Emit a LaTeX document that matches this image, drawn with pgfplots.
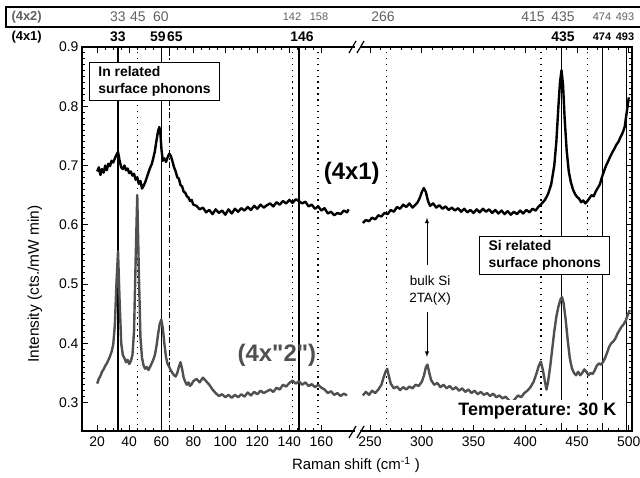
\documentclass[border=0pt]{standalone}
\usepackage{fontspec}
\setmainfont{Liberation Sans}
\usepackage{pgfplots}
\pgfplotsset{compat=1.18}

\definecolor{grayline}{HTML}{505050}
\definecolor{graytext}{HTML}{606060}

% 4x1 spectrum, low-frequency part
\pgfplotstableread{
x y
20 0.690
21 0.697
22 0.684
23 0.694
24 0.688
25 0.700
26 0.692
27 0.703
28 0.699
29 0.708
30 0.705
31 0.712
32 0.718
33 0.723
34 0.708
35 0.697
36 0.694
37 0.700
38 0.692
39 0.695
40 0.687
41 0.690
42 0.683
43 0.686
44 0.676
45 0.680
46 0.669
47 0.674
48 0.661
49 0.666
50 0.672
51 0.680
52 0.688
53 0.696
54 0.702
55 0.712
56 0.724
57 0.742
58 0.758
58.8 0.765
59.5 0.752
60.2 0.725
61 0.708
62 0.712
63 0.706
64 0.714
65 0.720
66 0.716
67 0.707
68 0.697
69 0.690
70 0.680
71 0.678
72 0.667
73 0.665
74 0.656
75 0.654
76 0.648
77 0.646
78 0.640
79 0.642
80 0.634
82 0.632
84 0.626
86 0.629
88 0.621
90 0.625
92 0.618
94 0.626
96 0.620
98 0.624
100 0.617
102 0.626
104 0.619
106 0.627
108 0.622
110 0.628
112 0.624
114 0.630
116 0.625
118 0.632
120 0.627
122 0.634
124 0.629
126 0.633
128 0.636
130 0.631
132 0.638
134 0.634
136 0.640
138 0.636
140 0.642
142 0.637
144 0.643
146 0.640
148 0.636
150 0.639
152 0.631
154 0.634
156 0.627
158 0.631
160 0.624
162 0.628
164 0.619
166 0.622
168 0.616
170 0.620
172 0.618
174 0.624
176 0.621
177 0.626
}\blackleft

% 4x1 spectrum, high-frequency part
\pgfplotstableread{
x y
243 0.603
246 0.608
249 0.606
252 0.612
255 0.609
258 0.616
261 0.614
264 0.620
267 0.618
270 0.625
273 0.622
276 0.630
279 0.627
282 0.634
285 0.630
288 0.636
291 0.629
294 0.634
296 0.638
298 0.645
300 0.655
302 0.662
304 0.655
306 0.640
308 0.632
311 0.636
314 0.629
317 0.633
320 0.627
323 0.631
326 0.625
329 0.629
332 0.624
335 0.628
338 0.622
341 0.627
344 0.621
347 0.625
350 0.620
353 0.626
356 0.621
359 0.627
362 0.622
365 0.626
368 0.620
371 0.625
374 0.619
377 0.624
380 0.618
383 0.623
386 0.617
389 0.622
392 0.618
395 0.624
398 0.619
401 0.625
404 0.621
407 0.627
410 0.624
413 0.631
416 0.636
419 0.642
422 0.652
425 0.668
428 0.700
430 0.740
432 0.800
433.5 0.840
435 0.861
436.5 0.835
438 0.780
440 0.725
442 0.690
444 0.672
446 0.660
448 0.652
450 0.647
452 0.644
454 0.638
456 0.641
458 0.636
460 0.640
462 0.645
464 0.650
466 0.648
468 0.656
470 0.662
472 0.668
474 0.680
476 0.690
478 0.700
480 0.707
482 0.715
484 0.722
486 0.728
488 0.735
490 0.740
492 0.748
494 0.755
496 0.765
498 0.790
500 0.815
}\blackright

% 4x"2" spectrum, low-frequency part
\pgfplotstableread{
x y
20 0.332
21 0.340
22 0.345
23 0.352
24 0.356
25 0.362
26 0.366
27 0.372
28 0.378
29 0.386
30 0.398
31 0.430
32 0.500
33 0.555
34 0.470
35 0.400
36 0.380
37 0.375
38 0.368
39 0.372
40 0.365
41 0.370
42 0.380
43 0.420
44 0.540
45 0.650
46 0.520
47 0.410
48 0.375
49 0.362
50 0.357
51 0.360
52 0.355
53 0.360
54 0.366
55 0.372
56 0.380
57 0.395
58 0.415
59 0.432
60 0.440
61 0.425
62 0.398
63 0.376
64 0.365
65 0.360
66 0.354
67 0.350
68 0.346
69 0.344
70 0.350
71 0.360
72 0.368
73 0.357
74 0.342
75 0.335
76 0.330
77 0.334
78 0.328
79 0.331
80 0.336
82 0.340
84 0.334
86 0.342
88 0.336
90 0.330
92 0.322
94 0.316
96 0.311
98 0.314
100 0.309
102 0.313
104 0.308
106 0.313
108 0.309
110 0.314
112 0.310
114 0.317
116 0.312
118 0.318
120 0.314
122 0.320
124 0.316
126 0.319
128 0.322
130 0.318
132 0.325
134 0.322
136 0.330
138 0.327
140 0.333
142 0.337
144 0.332
146 0.336
148 0.330
150 0.334
152 0.328
154 0.331
156 0.326
158 0.330
160 0.325
162 0.322
164 0.316
166 0.319
168 0.313
170 0.316
172 0.311
174 0.315
176 0.312
}\grayleft

% 4x"2" spectrum, high-frequency part
\pgfplotstableread{
x y
243 0.312
246 0.318
249 0.313
252 0.320
255 0.316
258 0.322
261 0.330
263 0.342
265 0.352
266.5 0.357
268 0.346
270 0.332
273 0.324
276 0.327
279 0.321
282 0.326
285 0.322
288 0.327
291 0.324
294 0.330
297 0.328
300 0.335
302 0.345
304 0.360
305.5 0.364
307 0.352
309 0.338
312 0.330
315 0.333
318 0.326
321 0.330
324 0.324
327 0.328
330 0.322
333 0.326
336 0.320
339 0.324
342 0.318
345 0.322
348 0.316
351 0.320
354 0.314
357 0.318
360 0.313
363 0.316
366 0.311
369 0.315
372 0.309
375 0.312
378 0.307
381 0.310
384 0.304
387 0.300
390 0.306
393 0.312
396 0.309
399 0.316
402 0.320
405 0.326
408 0.335
411 0.350
413 0.362
415 0.369
417 0.355
419 0.335
420.5 0.322
422 0.335
424 0.360
426 0.390
428 0.420
430 0.445
432 0.462
434 0.474
435.5 0.478
437 0.468
439 0.440
441 0.405
443 0.375
445 0.358
447 0.350
449 0.346
451 0.352
453 0.346
455 0.350
457 0.356
459 0.352
461 0.346
463 0.350
465 0.348
467 0.354
469 0.362
471 0.366
473 0.364
475 0.368
477 0.375
479 0.384
481 0.394
483 0.400
485 0.403
487 0.408
489 0.416
491 0.422
493 0.428
495 0.432
497 0.438
499 0.448
501 0.456
}\grayright

\pgfplotsset{
  brokenaxis/.style={
    scale only axis,
    height=384bp,
    ymin=0.252, ymax=0.9,
    ytick={0.3,0.4,0.5,0.6,0.7,0.8,0.9},
    minor y tick num=9,
    tick align=inside,
    xtick pos=both,
    major tick length=6bp,
    minor tick length=3bp,
    every tick/.style={black, line width=0.9bp},
    axis line style={draw=none},
    clip=false,
    tick label style={font=\fontsize{14}{14}\selectfont},
    xticklabel style={yshift=-2bp},
    /pgf/number format/assume math mode=true,
    yticklabel style={/pgf/number format/.cd, fixed, fixed zerofill, precision=1},
  },
}
\tikzset{
  solidref/.style={black, line width=1.1bp},
  dotref/.style={black, line width=1.4bp, dash pattern=on 1.4bp off 4.5bp},
  spec/.style={line width=2.4bp, line join=round},
}

\begin{document}
\begin{tikzpicture}
\useasboundingbox (0,0) rectangle (640bp,478bp);

% left part of the broken axis
\begin{axis}[brokenaxis,
  at={(82bp,47bp)}, anchor=south west, width=273bp,
  xmin=10.5, xmax=181,
  xtick={20,40,...,160}, minor x tick num=3,
  ytick pos=left,
]
\draw[solidref] (axis cs:33,0.252) -- (axis cs:33,0.9);
\draw[dotref] (axis cs:45,0.252) -- (axis cs:45,0.9);
\draw[solidref] (axis cs:60,0.252) -- (axis cs:60,0.9);
\draw[black, line width=1.1bp, dash pattern=on 6bp off 2.5bp on 1.5bp off 2.5bp] (axis cs:65,0.252) -- (axis cs:65,0.9);
\draw[dotref] (axis cs:142,0.252) -- (axis cs:142,0.9);
\draw[solidref] (axis cs:146,0.252) -- (axis cs:146,0.9);
\draw[dotref] (axis cs:158,0.252) -- (axis cs:158,0.9);
\addplot[spec, black] table {\blackleft};
\addplot[spec, grayline] table {\grayleft};
\draw[line width=1.4bp] (rel axis cs:1,0) -- (rel axis cs:0,0) -- (rel axis cs:0,1) -- (rel axis cs:1,1);
\node[draw, line width=1bp, fill=white, anchor=north west, align=left,
  inner xsep=9bp, inner ysep=4bp, font=\bfseries\fontsize{14}{17}\selectfont]
  at (axis cs:14.8,0.875) {In related\\surface phonons};
\node[font=\bfseries\fontsize{24}{24}\selectfont] at (axis cs:179,0.686) {(4x1)};
\node[font=\bfseries\fontsize{24}{24}\selectfont, text=grayline] at (axis cs:132.2,0.379) {(4x\textquotedbl 2\textquotedbl)};
\end{axis}

% right part of the broken axis
\begin{axis}[brokenaxis,
  at={(360bp,47bp)}, anchor=south west, width=272bp,
  xmin=240.3, xmax=503.1,
  xtick={250,300,...,500}, minor x tick num=4,
  ytick pos=right, yticklabels={},
]
\draw[dotref] (axis cs:266,0.252) -- (axis cs:266,0.9);
\draw[dotref] (axis cs:415,0.252) -- (axis cs:415,0.9);
\draw[solidref] (axis cs:435,0.252) -- (axis cs:435,0.9);
\draw[dotref] (axis cs:460,0.252) -- (axis cs:460,0.9);
\draw[solidref] (axis cs:475,0.252) -- (axis cs:475,0.9);
\draw[solidref] (axis cs:498,0.252) -- (axis cs:498,0.9);
\addplot[spec, black] table {\blackright};
\addplot[spec, grayline] table {\grayright};
\draw[line width=1.4bp] (rel axis cs:0,0) -- (rel axis cs:1,0) -- (rel axis cs:1,1) -- (rel axis cs:0,1);
\node[draw, line width=1bp, fill=white, anchor=north west, align=left,
  inner xsep=9bp, inner ysep=4bp, font=\bfseries\fontsize{14}{17}\selectfont]
  at (axis cs:355.3,0.581) {Si related\\surface phonons};
\node[align=center, font=\fontsize{13.5}{17}\selectfont] at (axis cs:308,0.489) {bulk Si\\2TA(X)};
\draw[-latex, line width=0.9bp] (axis cs:305,0.532) -- (axis cs:305,0.612);
\draw[-latex, line width=0.9bp] (axis cs:305,0.452) -- (axis cs:305,0.377);
\node[fill=white, inner xsep=2bp, inner ysep=3bp, anchor=east,
  font=\bfseries\fontsize{18}{18}\selectfont] at (axis cs:490,0.285) {Temperature: 30 K};
\end{axis}

% axis break marks
\foreach \yy in {40,425} {
  \draw[line width=1.2bp] (349bp,\yy bp) -- (356bp,\yy bp+12bp);
  \draw[line width=1.2bp] (357bp,\yy bp) -- (364bp,\yy bp+12bp);
}

% axis titles
\node[font=\fontsize{15}{15}\selectfont] at (356bp,13bp) {Raman shift (cm\textsuperscript{-1} )};
\node[rotate=90, font=\fontsize{15.5}{15.5}\selectfont] at (35bp,194bp) {Intensity (cts./mW min)};

% mode assignment rows above the frame
\draw[line width=1.3bp] (642bp,471bp) -- (6bp,471bp) -- (6bp,451bp) -- (642bp,451bp);
\begin{scope}[text=graytext]
\node[anchor=west, font=\bfseries\fontsize{13}{13}\selectfont] at (8bp,461bp) {(4x2)};
\node[font=\fontsize{14}{14}\selectfont] at (118bp,461bp) {33};
\node[font=\fontsize{14}{14}\selectfont] at (138bp,461bp) {45};
\node[font=\fontsize{14}{14}\selectfont] at (161bp,461bp) {60};
\node[font=\fontsize{11}{11}\selectfont] at (292bp,461bp) {142};
\node[font=\fontsize{11}{11}\selectfont] at (319bp,461bp) {158};
\node[font=\fontsize{14}{14}\selectfont] at (383bp,461bp) {266};
\node[font=\fontsize{14}{14}\selectfont] at (533bp,461bp) {415};
\node[font=\fontsize{14}{14}\selectfont] at (563bp,461bp) {435};
\node[font=\fontsize{11}{11}\selectfont] at (602bp,461bp) {474};
\node[font=\fontsize{11}{11}\selectfont] at (625bp,461bp) {493};
\end{scope}
\node[anchor=west, font=\bfseries\fontsize{13}{13}\selectfont] at (8bp,441bp) {(4x1)};
\node[font=\bfseries\fontsize{14}{14}\selectfont] at (118bp,441bp) {33};
\node[font=\bfseries\fontsize{14}{14}\selectfont] at (158bp,441bp) {59};
\node[font=\bfseries\fontsize{14}{14}\selectfont] at (175bp,441bp) {65};
\node[font=\bfseries\fontsize{14}{14}\selectfont] at (302bp,441bp) {146};
\node[font=\bfseries\fontsize{14}{14}\selectfont] at (563bp,441bp) {435};
\node[font=\bfseries\fontsize{11}{11}\selectfont] at (602bp,441bp) {474};
\node[font=\bfseries\fontsize{11}{11}\selectfont] at (625bp,441bp) {493};
\end{tikzpicture}
\end{document}
